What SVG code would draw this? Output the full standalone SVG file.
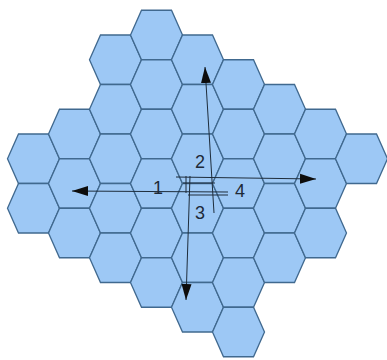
<svg xmlns="http://www.w3.org/2000/svg" width="387" height="360" viewBox="0 0 387 360">
<style>
.hex{fill:#9dc8f5;stroke:#40698f;stroke-width:1.3;stroke-linejoin:miter}
.conn{stroke:#1e2d3c;stroke-width:1;fill:none}
.lbl{font-family:"Liberation Sans",Arial,sans-serif;font-size:18px;fill:#1e2a38;text-anchor:middle}
</style>
<defs>
<polygon id="hx" class="hex" points="-26,0 -15,-24.75 15,-24.75 26,0 15,24.75 -15,24.75"/>
<marker id="ah" markerUnits="userSpaceOnUse" markerWidth="18" markerHeight="12" refX="16" refY="6" orient="auto">
<path d="M0,1 L16,6 L0,11 Z" fill="#0d0d0d"/>
</marker>
</defs>
<rect width="387" height="360" fill="#ffffff"/>
<g id="hexes">
<g id="h1-5"><use href="#hx" x="33.5" y="158.75"/></g>
<g id="h1-7"><use href="#hx" x="33.5" y="208.25"/></g>
<g id="h2-4"><use href="#hx" x="74.5" y="134"/></g>
<g id="h2-6"><use href="#hx" x="74.5" y="183.5"/></g>
<g id="h2-8"><use href="#hx" x="74.5" y="233"/></g>
<g id="h3-1"><use href="#hx" x="115.5" y="59.75"/></g>
<g id="h3-3"><use href="#hx" x="115.5" y="109.25"/></g>
<g id="h3-5"><use href="#hx" x="115.5" y="158.75"/></g>
<g id="h3-7"><use href="#hx" x="115.5" y="208.25"/></g>
<g id="h3-9"><use href="#hx" x="115.5" y="257.75"/></g>
<g id="h4-0"><use href="#hx" x="156.5" y="35"/></g>
<g id="h4-2"><use href="#hx" x="156.5" y="84.5"/></g>
<g id="h4-4"><use href="#hx" x="156.5" y="134"/></g>
<g id="h4-6"><use href="#hx" x="156.5" y="183.5"/></g>
<g id="h4-8"><use href="#hx" x="156.5" y="233"/></g>
<g id="h4-10"><use href="#hx" x="156.5" y="282.5"/></g>
<g id="h5-1"><use href="#hx" x="197.5" y="59.75"/></g>
<g id="h5-3"><use href="#hx" x="197.5" y="109.25"/></g>
<g id="h5-5"><use href="#hx" x="197.5" y="158.75"/></g>
<g id="h5-7"><use href="#hx" x="197.5" y="208.25"/></g>
<g id="h5-9"><use href="#hx" x="197.5" y="257.75"/></g>
<g id="h5-11"><use href="#hx" x="197.5" y="307.25"/></g>
<g id="h6-2"><use href="#hx" x="238.5" y="84.5"/></g>
<g id="h6-4"><use href="#hx" x="238.5" y="134"/></g>
<g id="h6-6"><use href="#hx" x="238.5" y="183.5"/></g>
<g id="h6-8"><use href="#hx" x="238.5" y="233"/></g>
<g id="h6-10"><use href="#hx" x="238.5" y="282.5"/></g>
<g id="h6-12"><use href="#hx" x="238.5" y="332"/></g>
<g id="h7-3"><use href="#hx" x="279.5" y="109.25"/></g>
<g id="h7-5"><use href="#hx" x="279.5" y="158.75"/></g>
<g id="h7-7"><use href="#hx" x="279.5" y="208.25"/></g>
<g id="h7-9"><use href="#hx" x="279.5" y="257.75"/></g>
<g id="h8-4"><use href="#hx" x="320.5" y="134"/></g>
<g id="h8-6"><use href="#hx" x="320.5" y="183.5"/></g>
<g id="h8-8"><use href="#hx" x="320.5" y="233"/></g>
<g id="h9-5"><use href="#hx" x="361.5" y="158.75"/></g>
</g>
<g id="connectors">
<line class="conn" x1="228" y1="192" x2="72" y2="191" marker-end="url(#ah)"/>
<line class="conn" x1="214" y1="213" x2="205" y2="67" marker-end="url(#ah)"/>
<line class="conn" x1="190" y1="176" x2="186" y2="300" marker-end="url(#ah)"/>
<line class="conn" x1="176" y1="177" x2="316" y2="179" marker-end="url(#ah)"/>
<line class="conn" x1="186" y1="176" x2="186" y2="193"/>
<line class="conn" x1="183" y1="183" x2="215" y2="183"/>
<line class="conn" x1="188" y1="195" x2="228" y2="195"/>
</g>
<g id="labels">
<text class="lbl" x="158" y="194">1</text>
<text class="lbl" x="200" y="168">2</text>
<text class="lbl" x="200" y="219">3</text>
<text class="lbl" x="240" y="197">4</text>
</g>
</svg>
